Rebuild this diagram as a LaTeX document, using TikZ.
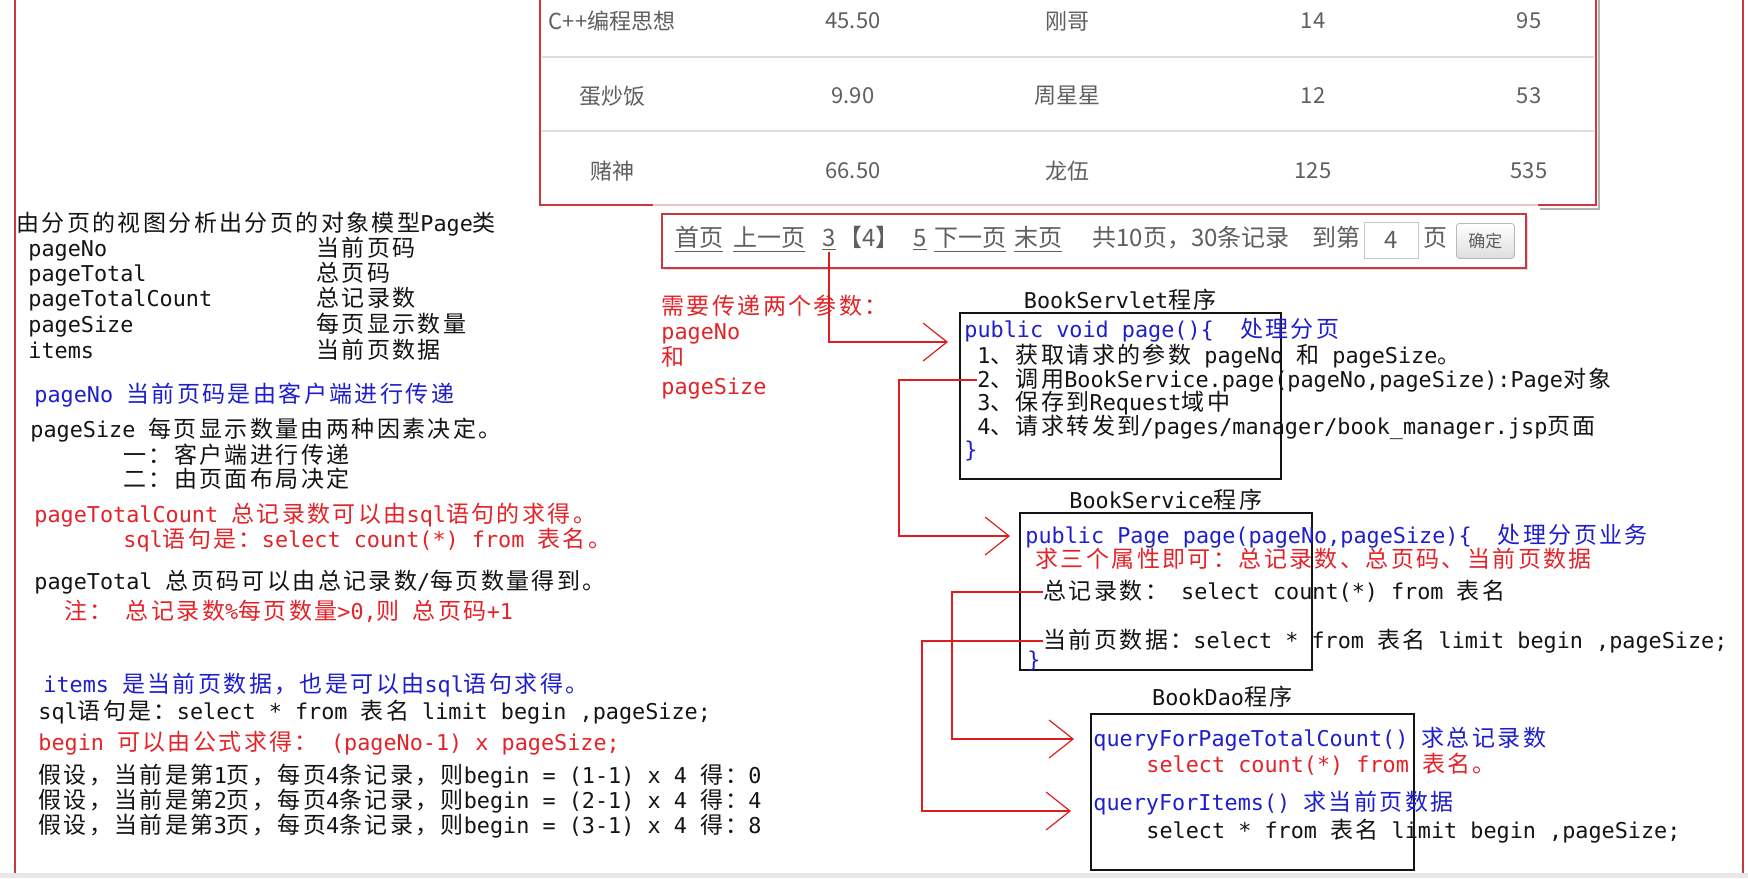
\documentclass[tikz,border=0pt]{standalone}
\usepackage{fontspec}
\setmainfont{Noto Sans CJK SC}
\newfontfamily\monolat{DejaVu Sans Mono}
\newfontfamily\cjkfam{Noto Sans CJK SC}
\usetikzlibrary{arrows.meta,positioning,shadows}
\definecolor{ink}{RGB}{20,20,20}
\definecolor{codeblue}{RGB}{30,30,205}
\definecolor{codered}{RGB}{228,35,40}
\definecolor{frameRed}{RGB}{204,56,66}
\definecolor{webgray}{RGB}{95,95,95}
\definecolor{rowgray}{RGB}{221,221,221}
\definecolor{wire}{RGB}{222,30,30}
% Latin half width, CJK full width, switched per character
\newXeTeXintercharclass\cjkcls
\newcount\cjkc
\def\cjkrange#1#2{\cjkc=#1\relax
  \loop\XeTeXcharclass\cjkc=\cjkcls\ifnum\cjkc<#2\advance\cjkc by 1\repeat}
\cjkrange{"3000}{"303F}
\cjkrange{"4E00}{"9FFF}
\cjkrange{"FF00}{"FFEF}
\newcommand{\codecjk}{\cjkfam\fontsize{11.5}{13}\selectfont}
\newcommand{\codelat}{\monolat\fontsize{10.9}{13}\selectfont}
\XeTeXinterchartoks 0 \cjkcls = {\codecjk}
\XeTeXinterchartoks 4095 \cjkcls = {\codecjk}
\XeTeXinterchartoks \cjkcls 0 = {\codelat}
\XeTeXinterchartoks 4095 0 = {\codelat}
\XeTeXinterchartoks \cjkcls 4095 = {\codelat}
\XeTeXinterchartoks \cjkcls \cjkcls = {\kern1.2pt}
\newcommand{\codefont}{\codelat\XeTeXinterchartokenstate=1\relax}
\newcommand{\cellfont}{\fontsize{11}{13}\selectfont}
\newcommand{\pagefont}{\fontsize{12}{13}\selectfont}
\tikzset{
  txt/.style={anchor=west,inner sep=0pt,text height=10pt,text depth=2.5pt,
    font=\codefont,text=ink},
  blu/.style={txt,text=codeblue},
  rd/.style={txt,text=codered},
  cell/.style={inner sep=0pt,font=\cellfont,text=webgray},
  pg/.style={anchor=west,inner sep=0pt,text height=9pt,text depth=2.5pt,
    font=\pagefont,text=webgray},
  redframe/.style={draw=frameRed,line width=1.2pt},
  codebox/.style={draw=ink,line width=.8pt,anchor=north west,inner sep=0pt},
  link/.style={wire,line width=.9pt,
    -{Straight Barb[length=12pt,width=19pt,line width=.6pt]}},
}

\begin{document}
\begin{tikzpicture}[x=0.5pt,y=-0.5pt]
  \useasboundingbox (0,0) rectangle (1748,878);
  \fill[white] (0,0) rectangle (1748,878);
  \draw[redframe] (15,0) -- (15,873);
  \draw[redframe] (1743,0) -- (1743,873);
  \fill[black!9] (0,873) rectangle (1748,878);

  \draw[black!30,line width=1pt] (1599,0) -- (1599,209) -- (1540,209);
  \draw[frameRed!30,line width=1.2pt] (653,205) -- (1538,205);
  \draw[redframe] (540,0) -- (540,205) -- (653,205);
  \draw[redframe] (1538,205) -- (1596,205) -- (1596,0);
  \foreach \y in {57,131} \draw[rowgray,line width=.8pt] (542,\y) -- (1594,\y);
  \foreach \r/\y/\a/\b/\c/\d/\e in {1/21/C++编程思想/45.50/刚哥/14/95,
      2/96/蛋炒饭/9.90/周星星/12/53,3/171/赌神/66.50/龙伍/125/535} {
    \node[cell] (name\r) at (612,\y) {\a};
    \node[cell] (price\r) at (853,\y) {\b};
    \node[cell] (author\r) at (1067,\y) {\c};
    \node[cell] (sales\r) at (1313,\y) {\d};
    \node[cell] (stock\r) at (1529,\y) {\e};
  }

  \node[redframe,fill=white,anchor=north west,minimum width=432pt,minimum height=27pt,
    drop shadow={shadow xshift=1pt,shadow yshift=-1pt,opacity=.3}] (pager) at (661,213) {};
  \node[pg] (pfirst) at (675,240) {\underline{首页}};
  \node[pg] (pprev) at (733,240) {\underline{上一页}};
  \node[pg] (pg3) at (822,240) {\underline{3}};
  \node[pg] (pcur) at (838,240) {【4】};
  \node[pg] (pg5) at (913,240) {\underline{5}};
  \node[pg] (pnext) at (934,240) {\underline{下一页}};
  \node[pg] (plast) at (1014,240) {\underline{末页}};
  \node[pg] (ptotal) at (1092,240) {共10页，30条记录};
  \node[pg] (pgoto) at (1312,240) {到第};
  \node[draw=black!22,anchor=north west,minimum width=27pt,minimum height=18pt,
    inner sep=0pt,font=\pagefont,text=webgray] (pinput) at (1364,222) {4};
  \node[pg] (punit) at (1423,240) {页};
  \node[draw=black!28,rounded corners=1.5pt,top color=white,bottom color=black!13,
    anchor=north west,minimum width=29pt,minimum height=17.5pt,inner sep=0pt,
    font=\fontsize{8.5}{9}\selectfont,text=webgray] (pok) at (1456,223) {确定};

  \node[txt] (m0) at (16,224) {由分页的视图分析出分页的对象模型Page类};
  \foreach \i/\y/\f/\d in {1/249/pageNo/当前页码,2/274/pageTotal/总页码,
      3/299/pageTotalCount/总记录数,4/325/pageSize/每页显示数量,5/351/items/当前页数据} {
    \node[txt] (f\i) at (28,\y) {\f};
    \node[txt] (d\i) at (316,\y) {\d};
  }
  \node[blu] (n1) at (34,395) {pageNo 当前页码是由客户端进行传递};
  \node[txt] (n2) at (30,430) {pageSize 每页显示数量由两种因素决定。};
  \node[txt] (n3) at (123,456) {一：客户端进行传递};
  \node[txt] (n4) at (123,480) {二：由页面布局决定};
  \node[rd] (n5) at (34,515) {pageTotalCount 总记录数可以由sql语句的求得。};
  \node[rd] (n6) at (123,540) {sql语句是：select count(*) from 表名。};
  \node[txt] (n7) at (34,582) {pageTotal 总页码可以由总记录数/每页数量得到。};
  \node[rd] (n8) at (64,612) {注：\ 总记录数\%每页数量>0,则 总页码+1};
  \node[blu] (n9) at (43,685) {items 是当前页数据，也是可以由sql语句求得。};
  \node[txt] (n10) at (38,712) {sql语句是：select * from 表名 limit begin ,pageSize;};
  \node[rd] (n11) at (38,743) {begin 可以由公式求得： (pageNo-1) x pageSize;};
  \node[txt] (n12) at (38,776) {假设，当前是第1页，每页4条记录，则begin = (1-1) x 4 得：0};
  \node[txt] (n13) at (38,801) {假设，当前是第2页，每页4条记录，则begin = (2-1) x 4 得：4};
  \node[txt] (n14) at (38,826) {假设，当前是第3页，每页4条记录，则begin = (3-1) x 4 得：8};

  \node[rd] (need) at (661,307) {需要传递两个参数：};
  \node[rd] (needNo) at (661,332) {pageNo};
  \node[rd] (needAnd) at (661,358) {和};
  \node[rd] (needSize) at (661,387) {pageSize};

  \node[codebox,minimum width=160.5pt,minimum height=83pt] (svbox) at (959,312) {};
  \node[txt,above=-1pt of svbox] (svtitle) {BookServlet程序};
  \node[blu] (sv0) at (964,330) {public void page()\{\ \ 处理分页};
  \node[txt] (sv1) at (977,356) {1、获取请求的参数 pageNo 和 pageSize。};
  \node[txt] (sv2) at (977,380) {2、调用BookService.page(pageNo,pageSize):Page对象};
  \node[txt] (sv3) at (977,403) {3、保存到Request域中};
  \node[txt] (sv4) at (977,427) {4、请求转发到/pages/manager/book\_manager.jsp页面};
  \node[blu] (sv5) at (964,450) {\}};

  \node[codebox,minimum width=146pt,minimum height=78.5pt] (vcbox) at (1019,512) {};
  \node[txt,above=-1pt of vcbox] (vctitle) {BookService程序};
  \node[blu] (vc0) at (1025,536) {public Page page(pageNo,pageSize)\{\ \ 处理分页业务};
  \node[rd] (vc1) at (1035,560) {求三个属性即可：总记录数、总页码、当前页数据};
  \node[txt] (vc2) at (1043,592) {总记录数：\ select count(*) from 表名};
  \node[txt] (vc3) at (1043,641) {当前页数据：select * from 表名 limit begin ,pageSize;};
  \node[blu] (vc4) at (1027,660) {\}};

  \node[codebox,minimum width=161.5pt,minimum height=78pt] (daobox) at (1090,713) {};
  \node[txt,above=1pt of daobox,xshift=-15pt] (daotitle) {BookDao程序};
  \node[blu] (dao0) at (1093,739) {queryForPageTotalCount() 求总记录数};
  \node[rd] (dao1) at (1146,765) {select count(*) from 表名。};
  \node[blu] (dao2) at (1093,803) {queryForItems() 求当前页数据};
  \node[txt] (dao3) at (1146,831) {select * from 表名 limit begin ,pageSize;};

  \draw[link] (pg3.south) |- ([shift={(-11,30)}]svbox.north west);
  \draw[link] (sv2.west) -- ++(-78,0) |- ([xshift=-7.5pt]vc0.west);
  \draw[link] (vc2.west) -- ++(-91,0) |- ([xshift=-9.5pt]dao0.west);
  \draw[link] (vc3.west) -- ++(-121,0) |- ([shift={(-22,8)}]dao2.west);
\end{tikzpicture}
\end{document}
